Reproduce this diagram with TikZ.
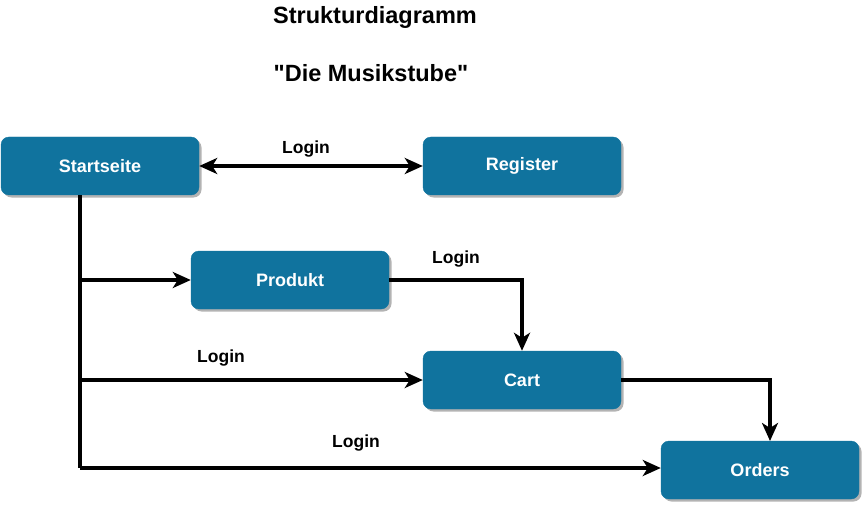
\documentclass[tikz,border=0pt]{standalone}
\usepackage{fontspec}
\setmainfont{Liberation Sans}
\usetikzlibrary{arrows.meta,shadows}
\definecolor{boxblue}{HTML}{10739E}
\definecolor{shadowgrey}{HTML}{B3B3B3}
\begin{document}
\begin{tikzpicture}[x=1pt,y=-1pt,
  box/.style={rectangle, rounded corners=8pt, fill=boxblue, draw=boxblue,
    minimum width=198pt, minimum height=58pt, inner sep=0pt,
    text=white, font=\fontsize{18}{20}\selectfont\bfseries,
    drop shadow={shadow xshift=2.5pt, shadow yshift=-2.5pt, fill=shadowgrey, opacity=1}},
  tip/.style={Stealth[length=18pt,width=16pt,inset=5pt]},
  conn/.style={line width=3.2pt, -{Stealth[length=18pt,width=16pt,inset=5pt]}},
  lbl/.style={font=\fontsize{17.5}{20}\selectfont\bfseries, inner sep=0pt},
  ttl/.style={font=\fontsize{23.5}{26}\selectfont\bfseries, inner sep=0pt}]
\useasboundingbox (0,0) rectangle (864,505);
\node[ttl] (t1) at (375,17) {Strukturdiagramm};
\node[ttl] (t2) at (371,73) {\textquotedbl Die Musikstube\textquotedbl};
\node[box] (start) at (100,166) {Startseite};
\node[box] (reg) at (522,166) {Register};
\node[box] (prod) at (290,280) {Produkt};
\node[box] (cart) at (522,380) {Cart};
\node[box] (ord) at (760,470) {Orders};
\coordinate (trunk) at (80,195);
\draw[line width=3.2pt, {Stealth[length=18pt,width=16pt,inset=5pt]}-{Stealth[length=18pt,width=16pt,inset=5pt]}] (start.east) -- (reg.west);
\draw[line width=3.2pt] (start.south -| trunk) -- (80,468);
\draw[conn] (80,468) -- (ord.west |- 0,468);
\draw[conn] (80,280) -- (prod.west);
\draw[conn] (80,380) -- (cart.west);
\draw[conn] (prod.east) -| (cart.north);
\draw[conn] (cart.east) -| (770,441);
\node[lbl] (l1) at (306,149) {Login};
\node[lbl] (l2) at (456,259) {Login};
\node[lbl] (l3) at (221,358) {Login};
\node[lbl] (l4) at (356,443) {Login};
\end{tikzpicture}
\end{document}
